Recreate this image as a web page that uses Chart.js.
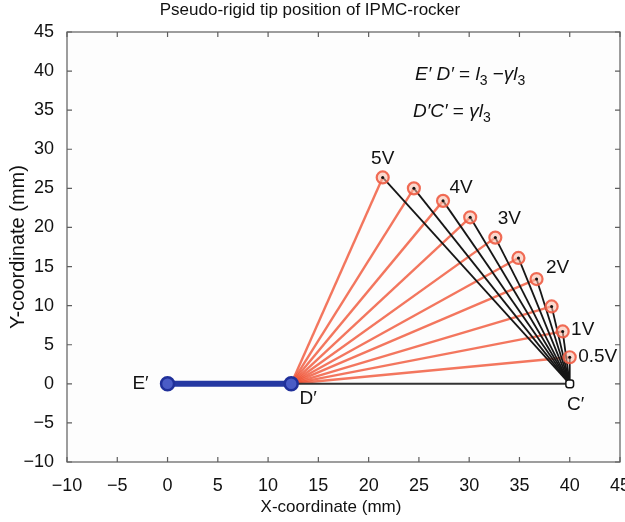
<!DOCTYPE html>
<html>
<head>
<meta charset="utf-8">
<script src="https://cdn.jsdelivr.net/npm/chart.js@4"></script>
<style>
  html, body { margin: 0; padding: 0; background: #fff; }
  #wrap { width: 625px; height: 522px; }
</style>
</head>
<body>
<div id="wrap"><canvas id="tipChart" width="625" height="522"></canvas></div>
<script>
// ---- datos ----
const voltages = [5, 4.5, 4, 3.5, 3, 2.5, 2, 1.5, 1, 0.5];
const tipX     = [21.4, 24.5, 27.4, 30.1, 32.6, 34.9, 36.7, 38.2, 39.3, 40.0];
const tipY     = [26.4, 25.0, 23.4, 21.3, 18.7, 16.1, 13.4, 9.9, 6.7, 3.4];
const pointE   = [0, 0];
const pointD   = [12.3, 0];
const pointC   = [40, 0];
const xTicks   = [-10, -5, 0, 5, 10, 15, 20, 25, 30, 35, 40, 45];
const yTicks   = [-10, -5, 0, 5, 10, 15, 20, 25, 30, 35, 40, 45];
const labeled  = ['5V', '4V', '3V', '2V', '1V', '0.5V'];

// ---- estilos ----
const FONT      = '"Liberation Sans", Arial, Helvetica, sans-serif';
const C_FAN     = 'rgba(240, 84, 54, 0.80)';
const C_RING    = 'rgba(238, 92, 68, 0.90)';
const C_RINGBG  = 'rgba(250, 185, 165, 0.55)';
const C_BLACK   = '#161616';
const C_BLUE    = '#2538a2';
const C_AXIS    = '#5e5e5e';

const pt = (a) => ({ x: a[0], y: a[1] });
const tips = tipX.map((x, i) => ({ x, y: tipY[i] }));
const minus = (v) => String(v).replace('-', '\u2212');

// offsets (px) de las etiquetas de voltaje respecto a la punta
const labelOffset = {
  '5V':   [0, -19],
  '4V':   [18, -13],
  '3V':   [14, -19],
  '2V':   [21, -11],
  '1V':   [20, -2],
  '0.5V': [28, 0],
};

const datasets = [];

// abanico naranja D' -> punta
tips.forEach(t => datasets.push({
  data: [pt(pointD), t], showLine: true, borderColor: C_FAN, borderWidth: 2.4,
  pointRadius: 0, order: 10,
}));

// base D' -> C'
datasets.push({
  data: [pt(pointD), pt(pointC)], showLine: true, borderColor: '#333', borderWidth: 2,
  pointRadius: 0, order: 9,
});

// líneas negras C' -> punta
tips.forEach(t => datasets.push({
  data: [pt(pointC), t], showLine: true, borderColor: C_BLACK, borderWidth: 1.8,
  pointRadius: 0, order: 8,
}));

// marcadores de punta
datasets.push({
  data: tips, showLine: false, pointRadius: 6, pointBorderWidth: 2.2,
  pointBorderColor: C_RING, pointBackgroundColor: C_RINGBG, order: 5,
});
datasets.push({
  data: tips, showLine: false, pointRadius: 1.5, pointBorderWidth: 0,
  pointBackgroundColor: '#111', order: 4,
});

// brazo azul E' -> D'
datasets.push({
  data: [pt(pointE), pt(pointD)], showLine: true, borderColor: C_BLUE, borderWidth: 6,
  pointRadius: 6.5, pointBorderWidth: 2.5, pointBorderColor: '#20309a',
  pointBackgroundColor: '#4a5cc6', order: 3,
});

// marcador C'
datasets.push({
  data: [pt(pointC)], showLine: false, pointStyle: 'rectRounded', pointRadius: 4.5,
  pointBorderWidth: 1.5, pointBorderColor: '#111', pointBackgroundColor: '#fff', order: 2,
});

// ---- plugin: fondo, caja y ticks hacia adentro ----
const boxPlugin = {
  id: 'box',
  beforeDatasetsDraw(chart) {
    const { ctx, chartArea: a } = chart;
    ctx.save();
    ctx.fillStyle = '#fdfdfd';
    ctx.fillRect(a.left, a.top, a.right - a.left, a.bottom - a.top);
    ctx.restore();
  },
  afterDatasetsDraw(chart) {
    const { ctx, chartArea: a, scales } = chart;
    ctx.save();
    ctx.strokeStyle = C_AXIS;
    ctx.lineWidth = 1.2;
    ctx.strokeRect(a.left, a.top, a.right - a.left, a.bottom - a.top);
    ctx.beginPath();
    xTicks.forEach(v => {
      const px = scales.x.getPixelForValue(v);
      ctx.moveTo(px, a.bottom); ctx.lineTo(px, a.bottom - 5);
      ctx.moveTo(px, a.top);    ctx.lineTo(px, a.top + 5);
    });
    yTicks.forEach(v => {
      const py = scales.y.getPixelForValue(v);
      ctx.moveTo(a.left, py);  ctx.lineTo(a.left + 5, py);
      ctx.moveTo(a.right, py); ctx.lineTo(a.right - 5, py);
    });
    ctx.stroke();
    ctx.restore();
  }
};

// ---- plugin: etiquetas y ecuaciones ----
function richText(ctx, x, y, parts) {
  parts.forEach(p => {
    const size = p.sub ? 14 : 19;
    ctx.font = (p.it ? 'italic ' : '') + size + 'px ' + FONT;
    ctx.fillText(p.t, x, y + (p.sub ? 6 : 0));
    x += ctx.measureText(p.t).width;
  });
}

const labelPlugin = {
  id: 'labels',
  afterDraw(chart) {
    const { ctx, scales: { x, y } } = chart;
    ctx.save();
    ctx.fillStyle = '#111';
    ctx.textAlign = 'center';
    ctx.textBaseline = 'middle';
    ctx.font = '19px ' + FONT;
    voltages.forEach((v, i) => {
      const name = v + 'V';
      if (!labeled.includes(name)) return;
      const o = labelOffset[name];
      ctx.fillText(name, x.getPixelForValue(tipX[i]) + o[0], y.getPixelForValue(tipY[i]) + o[1]);
    });
    ctx.fillText('E\u2032', x.getPixelForValue(pointE[0]) - 27, y.getPixelForValue(pointE[1]));
    ctx.fillText('D\u2032', x.getPixelForValue(pointD[0]) + 17, y.getPixelForValue(pointD[1]) + 15);
    ctx.fillText('C\u2032', x.getPixelForValue(pointC[0]) + 6, y.getPixelForValue(pointC[1]) + 21);

    // título del eje X (algo a la izquierda del centro, como en la figura)
    ctx.font = '17px ' + FONT;
    ctx.fillText('X-coordinate (mm)', 331, 507);

    ctx.textAlign = 'left';
    const a = chart.chartArea;
    richText(ctx, a.left + 348, a.top + 43, [
      { t: 'E\u2032 D\u2032', it: true }, { t: ' = ' }, { t: 'l', it: true }, { t: '3', sub: true },
      { t: ' \u2212' }, { t: '\u03b3l', it: true }, { t: '3', sub: true },
    ]);
    richText(ctx, a.left + 346, a.top + 80, [
      { t: 'D\u2032C\u2032', it: true }, { t: ' = ' }, { t: '\u03b3l', it: true }, { t: '3', sub: true },
    ]);
    ctx.restore();
  }
};

new Chart(document.getElementById('tipChart').getContext('2d'), {
  type: 'scatter',
  data: { datasets },
  options: {
    responsive: false,
    animation: false,
    events: [],
    layout: { autoPadding: false, padding: { left: 0, right: 5, top: 0, bottom: 0 } },
    plugins: {
      legend: { display: false },
      tooltip: { enabled: false },
      title: {
        display: true,
        text: 'Pseudo-rigid tip position of IPMC-rocker',
        color: '#111',
        font: { family: FONT, size: 17, weight: 'normal' },
        padding: { top: 0, bottom: 11.6 },
      },
    },
    scales: {
      x: {
        type: 'linear', min: -10, max: 45,
        afterBuildTicks: s => { s.ticks = xTicks.map(v => ({ value: v })); },
        afterFit: s => { s.height = 60; s.paddingLeft = 0; s.paddingRight = 0; },
        grid: { display: false },
        border: { display: false },
        ticks: { color: '#111', font: { family: FONT, size: 18 }, padding: 5, maxRotation: 0, autoSkip: false, callback: minus },
        title: { display: false },
      },
      y: {
        type: 'linear', min: -10, max: 45,
        afterBuildTicks: s => { s.ticks = yTicks.map(v => ({ value: v })); },
        afterFit: s => { s.width = 67; s.paddingTop = 0; s.paddingBottom = 0; },
        grid: { display: false },
        border: { display: false },
        ticks: { color: '#111', font: { family: FONT, size: 18 }, padding: 5, autoSkip: false, callback: minus },
        title: { display: true, text: 'Y-coordinate (mm)', color: '#111',
                 font: { family: FONT, size: 20 }, padding: { top: 6, bottom: 0 } },
      },
    },
  },
  plugins: [boxPlugin, labelPlugin],
});
</script>
</body>
</html>
